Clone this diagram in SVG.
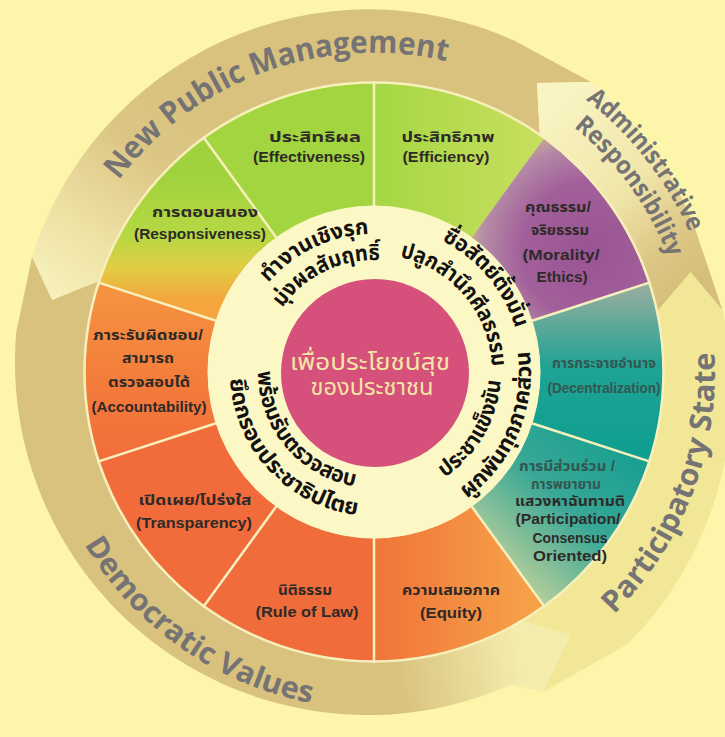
<svg xmlns="http://www.w3.org/2000/svg" width="725" height="737" viewBox="0 0 725 737">
<style>
.band-t{font-family:'Open Sans','Liberation Sans',sans-serif;font-weight:700;fill:#757373}
.seg{font-family:'Liberation Sans','Noto Sans Thai','Noto Sans',sans-serif;font-weight:700;font-size:14px;fill:#2e2a28;text-anchor:middle}
.th{font-family:'Noto Sans Thai','Noto Sans Thai UI','Noto Sans','Liberation Sans',sans-serif}
.ring-t{font-size:22px;font-weight:700;fill:#141210}
.core-t{font-size:23px;fill:#f4e6a4;text-anchor:middle}
.div{stroke:#f7f0bc;stroke-width:2.5;fill:none}
.teal{fill:#33574f}
</style>
<defs>
<linearGradient id="gNPM" gradientUnits="userSpaceOnUse" x1="45" y1="300" x2="190" y2="90">
<stop offset="0" stop-color="#f8f2bf"/><stop offset="0.3" stop-color="#efe3a6"/><stop offset="0.7" stop-color="#dcc684"/><stop offset="1" stop-color="#d8c27d"/>
</linearGradient>
<linearGradient id="gAdm" gradientUnits="userSpaceOnUse" x1="560" y1="95" x2="710" y2="270">
<stop offset="0" stop-color="#f9f4c3"/><stop offset="0.5" stop-color="#f0e6aa"/><stop offset="0.8" stop-color="#dcc684"/><stop offset="1" stop-color="#d6bf7a"/>
</linearGradient>
<linearGradient id="gDem" gradientUnits="userSpaceOnUse" x1="525" y1="690" x2="400" y2="710">
<stop offset="0" stop-color="#f4ecac"/><stop offset="1" stop-color="#d8c27d"/>
</linearGradient>
<linearGradient id="gResp" gradientUnits="userSpaceOnUse" x1="0" y1="170" x2="0" y2="300">
<stop offset="0" stop-color="#9fd23d"/><stop offset="0.5" stop-color="#b5d843"/><stop offset="0.75" stop-color="#e2cd45"/><stop offset="1" stop-color="#f4a53d"/>
</linearGradient>
<linearGradient id="gEffic" gradientUnits="userSpaceOnUse" x1="380" y1="0" x2="545" y2="0">
<stop offset="0" stop-color="#a6d744"/><stop offset="1" stop-color="#c9df60"/>
</linearGradient>
<radialGradient id="gMoral" gradientUnits="userSpaceOnUse" cx="590" cy="250" r="125">
<stop offset="0" stop-color="#9a5394"/><stop offset="0.55" stop-color="#a2609a"/><stop offset="0.85" stop-color="#b58aa5"/><stop offset="1" stop-color="#c9b290"/>
</radialGradient>
<linearGradient id="gDec" gradientUnits="userSpaceOnUse" x1="0" y1="290" x2="0" y2="460">
<stop offset="0" stop-color="#93ad9e"/><stop offset="0.45" stop-color="#1fa394"/><stop offset="1" stop-color="#0e9e90"/>
</linearGradient>
<linearGradient id="gPart" gradientUnits="userSpaceOnUse" x1="640" y1="450" x2="500" y2="600">
<stop offset="0" stop-color="#169e91"/><stop offset="0.45" stop-color="#3aa896"/><stop offset="1" stop-color="#d8d89c"/>
</linearGradient>
<linearGradient id="gEq" gradientUnits="userSpaceOnUse" x1="380" y1="0" x2="525" y2="0">
<stop offset="0" stop-color="#f0763a"/><stop offset="1" stop-color="#f6a048"/>
</linearGradient>
<linearGradient id="gAcc" gradientUnits="userSpaceOnUse" x1="0" y1="285" x2="0" y2="460">
<stop offset="0" stop-color="#f59440"/><stop offset="0.6" stop-color="#f37a3a"/><stop offset="1" stop-color="#f26e3a"/>
</linearGradient>
<path id="pNPM" d="M 59.8 427.4 A 319 319 0 0 1 650.3 212.5"/>
<path id="pAdm1" d="M 326 30.4 A 345 345 0 0 1 693.9 501.2"/>
<path id="pAdm2" d="M 341 57.7 A 316 316 0 0 1 662.7 500.5"/>
<path id="pPart" d="M 427.3 708.8 A 341 341 0 0 0 639 157.4"/>
<path id="pDem" d="M 38.3 342.6 A 337 337 0 0 0 516.4 677.4"/>
<path id="pNW1" d="M 236.3 362.4 A 138 138 0 0 1 451.2 257.6"/>
<path id="pNW2" d="M 262.3 364.2 A 112 112 0 0 1 436.6 279.2"/>
<path id="pNE1" d="M 348.3 226.2 A 148 148 0 0 1 513.1 422.6"/>
<path id="pNE2" d="M 353.5 255.8 A 118 118 0 0 1 484.9 412.4"/>
<path id="pSE1" d="M 374 499 A 127 127 0 0 0 484 308.5"/>
<path id="pSE2" d="M 393.1 527.8 A 157 157 0 0 0 499.4 277.5"/>
<path id="pSW1" d="M 265 332.3 A 116 116 0 0 0 394.1 486.2"/>
<path id="pSW2" d="M 236.3 329.9 A 144 144 0 0 0 406.4 512.3"/>
</defs>

<rect x="0" y="0" width="725" height="737" fill="#fcf5aa"/>

<g id="arrow-npm">
<path d="M 374 372 L 99.8 280.8 L 52 300 L 32 257 A 353 353 0 0 1 515 41 L 591 82 L 537 83 L 539.8 135.3 Z" fill="url(#gNPM)"/>
</g>
<g id="arrow-admin">
<path d="M 374 372 L 539.8 135.3 L 537 83 L 591 82 A 355 355 0 0 1 695.6 230.2 L 722.6 310.5 L 690.6 272.2 L 656.7 311.9 Z" fill="url(#gAdm)"/>
</g>
<g id="arrow-participatory">
<path d="M 374 372 L 656.7 311.9 L 690.6 272.2 L 722.6 310.5 A 360 360 0 0 1 627.7 644.1 L 543 692 L 570 635 L 520.7 621 Z" fill="#f2e797"/>
</g>
<g id="arrow-democratic">
<path d="M 374 372 L 520.7 621 L 570 635 L 543 692 L 511.6 684.5 A 353 353 0 0 1 16.2 332.5 L 32 257 L 52 300 L 99.8 280.8 Z" fill="url(#gDem)"/>
</g>

<g id="seg-responsiveness">
<path d="M 99.1 282.7 A 289 289 0 0 1 204.1 138.2 L 276.4 237.7 A 166 166 0 0 0 216.1 320.7 Z" fill="url(#gResp)"/>
</g>
<g id="seg-effectiveness">
<path d="M 204.1 138.2 A 289 289 0 0 1 374 83 L 374 206 A 166 166 0 0 0 276.4 237.7 Z" fill="#a2d540"/>
</g>
<g id="seg-efficiency">
<path d="M 374 83 A 289 289 0 0 1 543.9 138.2 L 471.6 237.7 A 166 166 0 0 0 374 206 Z" fill="url(#gEffic)"/>
</g>
<g id="seg-morality">
<path d="M 543.9 138.2 A 289 289 0 0 1 648.9 282.7 L 531.9 320.7 A 166 166 0 0 0 471.6 237.7 Z" fill="url(#gMoral)"/>
</g>
<g id="seg-decentralization">
<path d="M 648.9 282.7 A 289 289 0 0 1 648.9 461.3 L 531.9 423.3 A 166 166 0 0 0 531.9 320.7 Z" fill="url(#gDec)"/>
</g>
<g id="seg-participation">
<path d="M 648.9 461.3 A 289 289 0 0 1 543.9 605.8 L 471.6 506.3 A 166 166 0 0 0 531.9 423.3 Z" fill="url(#gPart)"/>
</g>
<g id="seg-equity">
<path d="M 543.9 605.8 A 289 289 0 0 1 374 661 L 374 538 A 166 166 0 0 0 471.6 506.3 Z" fill="url(#gEq)"/>
</g>
<g id="seg-ruleoflaw">
<path d="M 374 661 A 289 289 0 0 1 204.1 605.8 L 276.4 506.3 A 166 166 0 0 0 374 538 Z" fill="#f06c3b"/>
</g>
<g id="seg-transparency">
<path d="M 204.1 605.8 A 289 289 0 0 1 99.1 461.3 L 216.1 423.3 A 166 166 0 0 0 276.4 506.3 Z" fill="#f26b3b"/>
</g>
<g id="seg-accountability">
<path d="M 99.1 461.3 A 289 289 0 0 1 99.1 282.7 L 216.1 320.7 A 166 166 0 0 0 216.1 423.3 Z" fill="url(#gAcc)"/>
</g>

<g id="dividers">
<circle cx="374" cy="372" r="289.5" class="div" stroke-width="2"/>
<line class="div" x1="216.1" y1="320.7" x2="97.2" y2="282.1"/>
<line class="div" x1="276.4" y1="237.7" x2="202.9" y2="136.6"/>
<line class="div" x1="374" y1="206" x2="374" y2="81"/>
<line class="div" x1="531.9" y1="320.7" x2="650.8" y2="282.1"/>
<line class="div" x1="531.9" y1="423.3" x2="650.8" y2="461.9"/>
<line class="div" x1="471.6" y1="506.3" x2="545.1" y2="607.4"/>
<line class="div" x1="374" y1="538" x2="374" y2="663"/>
<line class="div" x1="276.4" y1="506.3" x2="202.9" y2="607.4"/>
<line class="div" x1="216.1" y1="423.3" x2="97.2" y2="461.9"/>
</g>

<g id="cream-ring">
<circle cx="374" cy="372" r="166.5" fill="#fcf8c6"/>
</g>

<g id="core">
<circle cx="375" cy="373" r="94" fill="#d5507a"/>
<text class="th core-t" x="370" y="370" textLength="160" lengthAdjust="spacingAndGlyphs">เพื่อประโยชน์สุข</text>
<text class="th core-t" x="372" y="395" textLength="123" lengthAdjust="spacingAndGlyphs">ของประชาชน</text>
</g>

<g id="inner-captions" class="th ring-t">
<text><textPath href="#pNW1" startOffset="50%" text-anchor="middle" textLength="115" lengthAdjust="spacingAndGlyphs">ทำงานเชิงรุก</textPath></text>
<text><textPath href="#pNW2" startOffset="50%" text-anchor="middle" textLength="113" lengthAdjust="spacingAndGlyphs">มุ่งผลสัมฤทธิ์</textPath></text>
<text><textPath href="#pNE1" startOffset="50%" text-anchor="middle" textLength="118" lengthAdjust="spacingAndGlyphs">ซื่อสัตย์ตั้งมั่น</textPath></text>
<text><textPath href="#pNE2" startOffset="50%" text-anchor="middle" textLength="154" lengthAdjust="spacingAndGlyphs">ปลูกสำนึกศีลธรรม</textPath></text>
<text><textPath href="#pSE1" startOffset="50%" text-anchor="middle" textLength="116" lengthAdjust="spacingAndGlyphs">ประชาแข็งขัน</textPath></text>
<text><textPath href="#pSE2" startOffset="50%" text-anchor="middle" textLength="168" lengthAdjust="spacingAndGlyphs">ผูกพันทุกภาคส่วน</textPath></text>
<text><textPath href="#pSW1" startOffset="50%" text-anchor="middle" textLength="163" lengthAdjust="spacingAndGlyphs">พร้อมรับตรวจสอบ</textPath></text>
<text><textPath href="#pSW2" startOffset="50%" text-anchor="middle" textLength="202" lengthAdjust="spacingAndGlyphs">ยึดกรอบประชาธิปไตย</textPath></text>
</g>

<g id="labels-responsiveness" class="seg">
<text x="205" y="217" textLength="106" lengthAdjust="spacingAndGlyphs">การตอบสนอง</text>
<text x="200" y="239" textLength="132" lengthAdjust="spacingAndGlyphs">(Responsiveness)</text>
</g>
<g id="labels-effectiveness" class="seg">
<text x="315" y="142" textLength="92" lengthAdjust="spacingAndGlyphs">ประสิทธิผล</text>
<text x="309" y="162" textLength="112" lengthAdjust="spacingAndGlyphs">(Effectiveness)</text>
</g>
<g id="labels-efficiency" class="seg">
<text x="448" y="142" textLength="93" lengthAdjust="spacingAndGlyphs">ประสิทธิภาพ</text>
<text x="446" y="162" textLength="87" lengthAdjust="spacingAndGlyphs">(Efficiency)</text>
</g>
<g id="labels-morality" class="seg" fill="#3a2c3c">
<text x="558" y="212" textLength="66" lengthAdjust="spacingAndGlyphs">คุณธรรม/</text>
<text x="560" y="235" textLength="58" lengthAdjust="spacingAndGlyphs">จริยธรรม</text>
<text x="561" y="260" textLength="77" lengthAdjust="spacingAndGlyphs">(Morality/</text>
<text x="562" y="282" textLength="51" lengthAdjust="spacingAndGlyphs">Ethics)</text>
</g>
<g id="labels-decentralization" class="seg">
<text class="teal" x="604" y="368" textLength="104" lengthAdjust="spacingAndGlyphs">การกระจายอำนาจ</text>
<text class="teal" x="604" y="393" textLength="113" lengthAdjust="spacingAndGlyphs">(Decentralization)</text>
</g>
<g id="labels-participation" class="seg">
<text class="teal" x="567" y="471" textLength="96" lengthAdjust="spacingAndGlyphs">การมีส่วนร่วม /</text>
<text class="teal" x="566" y="489" textLength="70" lengthAdjust="spacingAndGlyphs">การพยายาม</text>
<text x="570" y="506" textLength="110" lengthAdjust="spacingAndGlyphs">แสวงหาฉันทามติ</text>
<text x="568" y="524" textLength="105" lengthAdjust="spacingAndGlyphs">(Participation/</text>
<text x="570" y="543" textLength="75" lengthAdjust="spacingAndGlyphs">Consensus</text>
<text x="570" y="561" textLength="74" lengthAdjust="spacingAndGlyphs">Oriented)</text>
</g>
<g id="labels-equity" class="seg">
<text x="451" y="595" textLength="98" lengthAdjust="spacingAndGlyphs">ความเสมอภาค</text>
<text x="451" y="618" textLength="62" lengthAdjust="spacingAndGlyphs">(Equity)</text>
</g>
<g id="labels-ruleoflaw" class="seg">
<text x="305" y="595" textLength="54" lengthAdjust="spacingAndGlyphs">นิติธรรม</text>
<text x="307" y="617" textLength="103" lengthAdjust="spacingAndGlyphs">(Rule of Law)</text>
</g>
<g id="labels-transparency" class="seg">
<text x="195" y="505" textLength="113" lengthAdjust="spacingAndGlyphs">เปิดเผย/โปร่งใส</text>
<text x="194" y="528" textLength="116" lengthAdjust="spacingAndGlyphs">(Transparency)</text>
</g>
<g id="labels-accountability" class="seg">
<text x="148" y="340" textLength="110" lengthAdjust="spacingAndGlyphs">ภาระรับผิดชอบ/</text>
<text x="148" y="363" textLength="52" lengthAdjust="spacingAndGlyphs">สามารถ</text>
<text x="149" y="387" textLength="82" lengthAdjust="spacingAndGlyphs">ตรวจสอบได้</text>
<text x="149" y="412" textLength="115" lengthAdjust="spacingAndGlyphs">(Accountability)</text>
</g>

<g id="band-labels" class="band-t">
<text font-size="31"><textPath href="#pNPM" startOffset="50%" text-anchor="middle" textLength="369" lengthAdjust="spacingAndGlyphs">New Public Management</textPath></text>
<text font-size="25"><textPath href="#pAdm1" startOffset="50%" text-anchor="middle" textLength="170" lengthAdjust="spacingAndGlyphs">Administrative</textPath></text>
<text font-size="25"><textPath href="#pAdm2" startOffset="50%" text-anchor="middle" textLength="163" lengthAdjust="spacingAndGlyphs">Responsibility</textPath></text>
<text font-size="30"><textPath href="#pPart" startOffset="50%" text-anchor="middle" textLength="289" lengthAdjust="spacingAndGlyphs">Participatory State</textPath></text>
<text font-size="30"><textPath href="#pDem" startOffset="50%" text-anchor="middle" textLength="285" lengthAdjust="spacingAndGlyphs">Democratic Values</textPath></text>
</g>
<g id="connectors"/>
</svg>
